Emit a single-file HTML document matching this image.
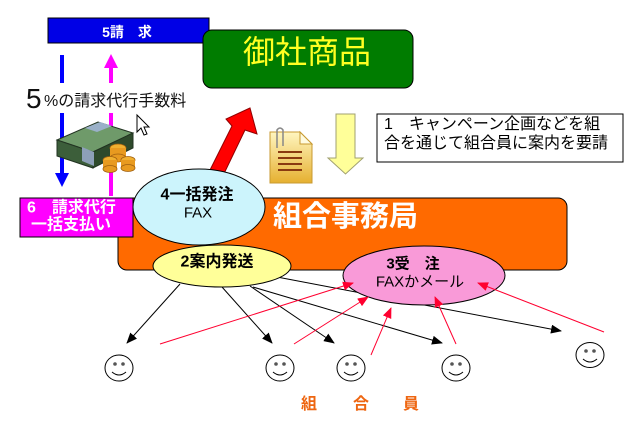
<!DOCTYPE html>
<html><head><meta charset="utf-8"><style>
html,body{margin:0;padding:0;background:#fff;width:643px;height:442px;overflow:hidden}
svg{display:block}
text{font-family:"Liberation Sans","Noto Sans CJK JP",sans-serif}
</style></head><body>
<svg width="643" height="442" viewBox="0 0 643 442" xmlns="http://www.w3.org/2000/svg">
<defs>
<marker id="ab" markerWidth="11" markerHeight="9" refX="10" refY="4.5" orient="auto" markerUnits="userSpaceOnUse"><path d="M0,0 L11,4.5 L0,9 z" fill="#000"/></marker>
<marker id="ar" markerWidth="11" markerHeight="9" refX="10" refY="4.5" orient="auto" markerUnits="userSpaceOnUse"><path d="M0,0 L11,4.5 L0,9 z" fill="#ff0030"/></marker>
<linearGradient id="doc" x1="0" y1="0" x2="0" y2="1"><stop offset="0" stop-color="#fff6c0"/><stop offset="1" stop-color="#e6b030"/></linearGradient>
</defs>

<!-- blue box -->
<rect x="48" y="18" width="161" height="25" fill="#0000e6" stroke="#000" stroke-width="1"/>
<text x="127" y="32" fill="#fff" font-size="14" font-weight="bold" text-anchor="middle" dominant-baseline="central">5請　求</text>

<!-- green box -->
<rect x="203" y="30" width="210" height="58" rx="9" fill="#007c00" stroke="#000" stroke-width="1"/>
<text x="307" y="52" fill="#ffff22" font-size="32" text-anchor="middle" dominant-baseline="central">御社商品</text>

<!-- blue down arrow -->
<rect x="60" y="55" width="4" height="120" fill="#0000ff"/>
<polygon points="55,173 69,173 62,187" fill="#0000ff"/>
<!-- pink up arrow -->
<rect x="109" y="66" width="4" height="130" fill="#ff00ff"/>
<polygon points="104,68 118,68 111,54" fill="#ff00ff"/>

<!-- fee label -->
<rect x="24" y="83" width="168" height="30" fill="#fff"/>
<text x="26" y="108" font-size="28" fill="#111">5</text>
<text x="44" y="106" font-size="16" fill="#111">%の請求代行手数料</text>

<!-- money -->
<polygon points="57,140 98,122 133,133 93,152" fill="#6f9a6a" stroke="#223322" stroke-width="1"/>
<polygon points="57,140 93,152 93,168 57,156" fill="#3c5e3a" stroke="#223322" stroke-width="1"/>
<polygon points="93,152 133,133 133,148 93,168" fill="#2e4a2c" stroke="#223322" stroke-width="1"/>
<polygon points="85,128 100,122 112,126 97,132" fill="#9ab0c8"/>
<polygon points="82,147 94,152 94,166 82,161" fill="#8da0b8"/>
<ellipse cx="118" cy="148" rx="8" ry="4" fill="#f0b030" stroke="#a06010" stroke-width="0.8"/>
<rect x="110" y="148" width="16" height="10" fill="#e89a20"/>
<ellipse cx="118" cy="158" rx="8" ry="4" fill="#e89a20" stroke="#a06010" stroke-width="0.8"/>
<ellipse cx="110" cy="160" rx="7" ry="3.5" fill="#f0b030" stroke="#a06010" stroke-width="0.8"/>
<rect x="103" y="160" width="14" height="9" fill="#e89a20"/>
<ellipse cx="110" cy="169" rx="7" ry="3.5" fill="#e89a20" stroke="#a06010" stroke-width="0.8"/>
<ellipse cx="128" cy="160" rx="7" ry="3.5" fill="#f0b030" stroke="#a06010" stroke-width="0.8"/>
<rect x="121" y="160" width="14" height="8" fill="#e89a20"/>
<ellipse cx="128" cy="168" rx="7" ry="3.5" fill="#e89a20" stroke="#a06010" stroke-width="0.8"/>

<!-- cursor -->
<polygon points="137,115 137,132 141,128 144,135 147,134 144,127 149,127" fill="#fff" stroke="#000" stroke-width="1"/>

<!-- doc icon -->
<path d="M270,132 L300,132 L312,144 L312,183 L270,183 z" fill="url(#doc)" stroke="#c89a30" stroke-width="1"/>
<path d="M300,132 L300,144 L312,144 z" fill="#fffbe0" stroke="#c89a30" stroke-width="1"/>
<line x1="278" y1="152" x2="302" y2="152" stroke="#8a3a10" stroke-width="2"/>
<line x1="278" y1="158" x2="302" y2="158" stroke="#8a3a10" stroke-width="2"/>
<line x1="278" y1="164" x2="302" y2="164" stroke="#8a3a10" stroke-width="2"/>
<line x1="278" y1="170" x2="302" y2="170" stroke="#8a3a10" stroke-width="2"/>
<path d="M277,148 L277,130 Q280,126 283,130 L283,146" fill="none" stroke="#888" stroke-width="1.5"/>

<!-- yellow down arrow -->
<polygon points="336,114 355,114 355,158 363,158 345.5,174 328,158 336,158" fill="#ffff99" stroke="#a0a070" stroke-width="1"/>

<!-- text box -->
<rect x="377" y="114" width="246" height="48" fill="#fff" stroke="#000" stroke-width="1"/>
<text x="384" y="129" font-size="16" fill="#000">1　キャンペーン企画などを組</text>
<text x="384" y="148" font-size="16" fill="#000">合を通じて組合員に案内を要請</text>

<!-- orange box -->
<rect x="118" y="198" width="449" height="72" rx="9" fill="#ff6a00" stroke="#000" stroke-width="1"/>
<text x="273" y="217" fill="#fff" font-size="29" font-weight="bold" dominant-baseline="central">組合事務局</text>

<!-- magenta box -->
<rect x="20" y="198" width="113" height="39" fill="#ff00ff" stroke="#000" stroke-width="1"/>
<text x="27" y="208" fill="#fff" font-size="16" font-weight="bold" dominant-baseline="central">6　請求代行</text>
<text x="31" y="225" fill="#fff" font-size="16" font-weight="bold" dominant-baseline="central">一括支払い</text>

<!-- red big arrow -->
<polygon points="250,108 257,134 245,130 220,182 207,176 232,126 226,119" fill="#ff0000" stroke="#900000" stroke-width="1"/>

<!-- cyan ellipse -->
<ellipse cx="199" cy="207" rx="66" ry="38" fill="#ccf4fc" stroke="#000" stroke-width="1"/>
<text x="197" y="195" font-size="16" font-weight="bold" text-anchor="middle" dominant-baseline="central" fill="#000">4一括発注</text>
<text x="198" y="213" font-size="15" text-anchor="middle" dominant-baseline="central" fill="#000">FAX</text>

<!-- black lines -->
<g stroke="#000" stroke-width="1" fill="none">
<line x1="180" y1="284" x2="127" y2="343" marker-end="url(#ab)"/>
<line x1="222" y1="287" x2="272" y2="343" marker-end="url(#ab)"/>
<line x1="250" y1="286" x2="334" y2="343" marker-end="url(#ab)"/>
<line x1="253" y1="287" x2="442" y2="343" marker-end="url(#ab)"/>
<line x1="277" y1="277" x2="561" y2="331" marker-end="url(#ab)"/>
</g>

<!-- yellow ellipse -->
<ellipse cx="222" cy="266" rx="69" ry="21" fill="#ffff99" stroke="#000" stroke-width="1"/>
<text x="217" y="262" font-size="16" font-weight="bold" text-anchor="middle" dominant-baseline="central" fill="#000">2案内発送</text>

<!-- pink ellipse -->
<ellipse cx="424" cy="275.5" rx="81" ry="29.5" fill="#f99ad8" stroke="#000" stroke-width="1"/>
<text x="413" y="264" font-size="15" font-weight="bold" text-anchor="middle" dominant-baseline="central" fill="#000">3受　注</text>
<text x="420" y="282" font-size="15" text-anchor="middle" dominant-baseline="central" fill="#000">FAXかメール</text>

<!-- red lines -->
<g stroke="#ff0030" stroke-width="1" fill="none">
<line x1="160" y1="344" x2="353" y2="283" marker-end="url(#ar)"/>
<line x1="294" y1="344" x2="368" y2="297" marker-end="url(#ar)"/>
<line x1="371" y1="355" x2="391" y2="308" marker-end="url(#ar)"/>
<line x1="456" y1="344" x2="435" y2="297" marker-end="url(#ar)"/>
<line x1="604" y1="332" x2="478" y2="283" marker-end="url(#ar)"/>
</g>

<!-- smileys -->
<g fill="none" stroke="#000" stroke-width="1">
<ellipse cx="119" cy="368" rx="14" ry="13"/>
<ellipse cx="280" cy="368" rx="14" ry="13"/>
<ellipse cx="351" cy="368" rx="14" ry="13"/>
<ellipse cx="456" cy="368" rx="14" ry="13"/>
<ellipse cx="590" cy="355" rx="14" ry="12.5"/>
<path d="M112,372 Q119,378 126,372"/>
<path d="M273,372 Q280,378 287,372"/>
<path d="M344,372 Q351,378 358,372"/>
<path d="M449,372 Q456,378 463,372"/>
<path d="M583,359 Q590,365 597,359"/>
</g>
<g fill="#555">
<circle cx="115" cy="364" r="1.8"/><circle cx="123" cy="364" r="1.8"/>
<circle cx="276" cy="364" r="1.8"/><circle cx="284" cy="364" r="1.8"/>
<circle cx="347" cy="364" r="1.8"/><circle cx="355" cy="364" r="1.8"/>
<circle cx="452" cy="364" r="1.8"/><circle cx="460" cy="364" r="1.8"/>
<circle cx="586" cy="351" r="1.8"/><circle cx="594" cy="351" r="1.8"/>
</g>

<!-- 組合員 -->
<text x="301" y="409" font-size="16" font-weight="bold" fill="#ee6611">組</text>
<text x="353" y="409" font-size="16" font-weight="bold" fill="#ee6611">合</text>
<text x="403" y="409" font-size="16" font-weight="bold" fill="#ee6611">員</text>
</svg>
</body></html>
